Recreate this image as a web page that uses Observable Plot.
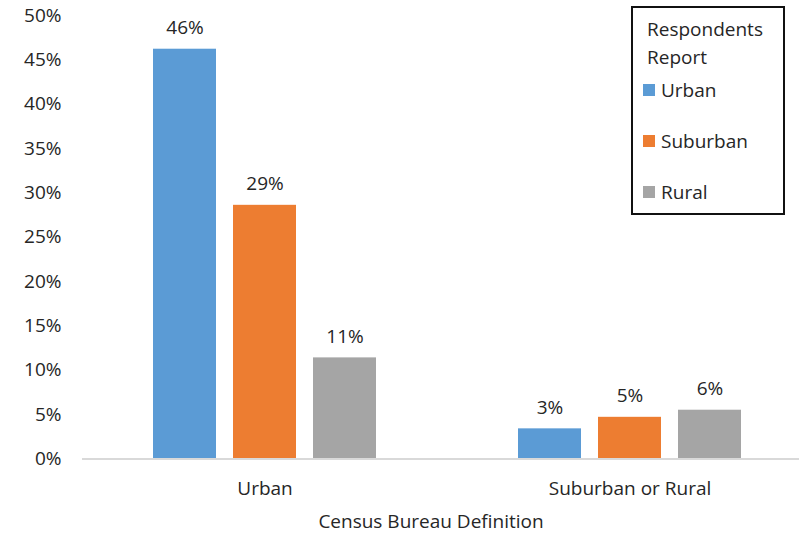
<!DOCTYPE html>
<html>
<head>
<meta charset="utf-8">
<script src="https://cdn.jsdelivr.net/npm/d3@7"></script>
<script src="https://cdn.jsdelivr.net/npm/@observablehq/plot@0.6"></script>
<style>
  html, body { margin: 0; padding: 0; background: #fff; }
  #wrap { position: relative; width: 799px; height: 535px; overflow: hidden; font-family: "Open Sans", "Noto Sans", sans-serif; color: #262626; }
  #legend { position: absolute; left: 631px; top: 6px; width: 150px; height: 205px; border: 2px solid #111; background: #fff; font-size: 19px; }
  #legend .title { position: absolute; left: 14px; top: 7px; line-height: 28px; }
  #legend .item { position: absolute; left: 10px; display: flex; align-items: center; line-height: 26px; }
  #legend .sw { width: 12px; height: 12px; margin-right: 6px; }
  #caption { position: absolute; left: 0; width: 862px; text-align: center; top: 508px; font-size: 19px; line-height: 26px; }
</style>
</head>
<body>
<div id="wrap"></div>
<script>
const groups = ["Urban", "Suburban or Rural"];
const series = ["Urban", "Suburban", "Rural"];
const colors = ["#5B9BD5", "#ED7D31", "#A5A5A5"];
const urbanValues = [46.2, 28.6, 11.4];
const suburbanRuralValues = [3.4, 4.7, 5.5];
const yTicks = [0, 5, 10, 15, 20, 25, 30, 35, 40, 45, 50];
const legendTitle = ["Respondents", "Report"];
const xTitle = "Census Bureau Definition";

const valuesByGroup = [urbanValues, suburbanRuralValues];
const data = [];
groups.forEach((g, gi) => series.forEach((s, si) => data.push({group: g, series: s, value: valuesByGroup[gi][si]})));

const chart = Plot.plot({
  width: 799,
  height: 535,
  marginLeft: 82,
  marginRight: -13,
  marginTop: 15,
  marginBottom: 76.5,
  style: {fontFamily: "'Open Sans', 'Noto Sans', sans-serif", fontSize: "19px", color: "#262626", background: "#fff"},
  fx: {domain: groups, padding: 0, label: null, axis: "bottom", tickSize: 0, tickPadding: 22},
  x: {domain: series, paddingInner: 0.21, paddingOuter: 0.86, axis: null},
  y: {domain: [0, 50], ticks: yTicks, tickFormat: d => d + "%", tickSize: 0, tickPadding: 21, label: null},
  color: {domain: series, range: colors},
  marks: [
    Plot.barY(data, {fx: "group", x: "series", y: "value", fill: "series"}),
    Plot.text(data, {fx: "group", x: "series", y: "value", text: d => Math.round(d.value) + "%", dy: -21, fill: "#262626"}),
    Plot.ruleY([0], {stroke: "#d9d9d9", strokeWidth: 2})
  ]
});

const wrap = document.getElementById("wrap");
wrap.appendChild(chart);

const cap = document.createElement("div");
cap.id = "caption";
cap.textContent = xTitle;
wrap.appendChild(cap);

const legend = document.createElement("div");
legend.id = "legend";
const t = document.createElement("div");
t.className = "title";
t.innerHTML = legendTitle.join("<br>");
legend.appendChild(t);
series.forEach((s, i) => {
  const it = document.createElement("div");
  it.className = "item";
  it.style.top = (69 + i * 51) + "px";
  const sw = document.createElement("span");
  sw.className = "sw";
  sw.style.background = colors[i];
  const lab = document.createElement("span");
  lab.textContent = s;
  it.appendChild(sw);
  it.appendChild(lab);
  legend.appendChild(it);
});
wrap.appendChild(legend);
</script>
</body>
</html>
